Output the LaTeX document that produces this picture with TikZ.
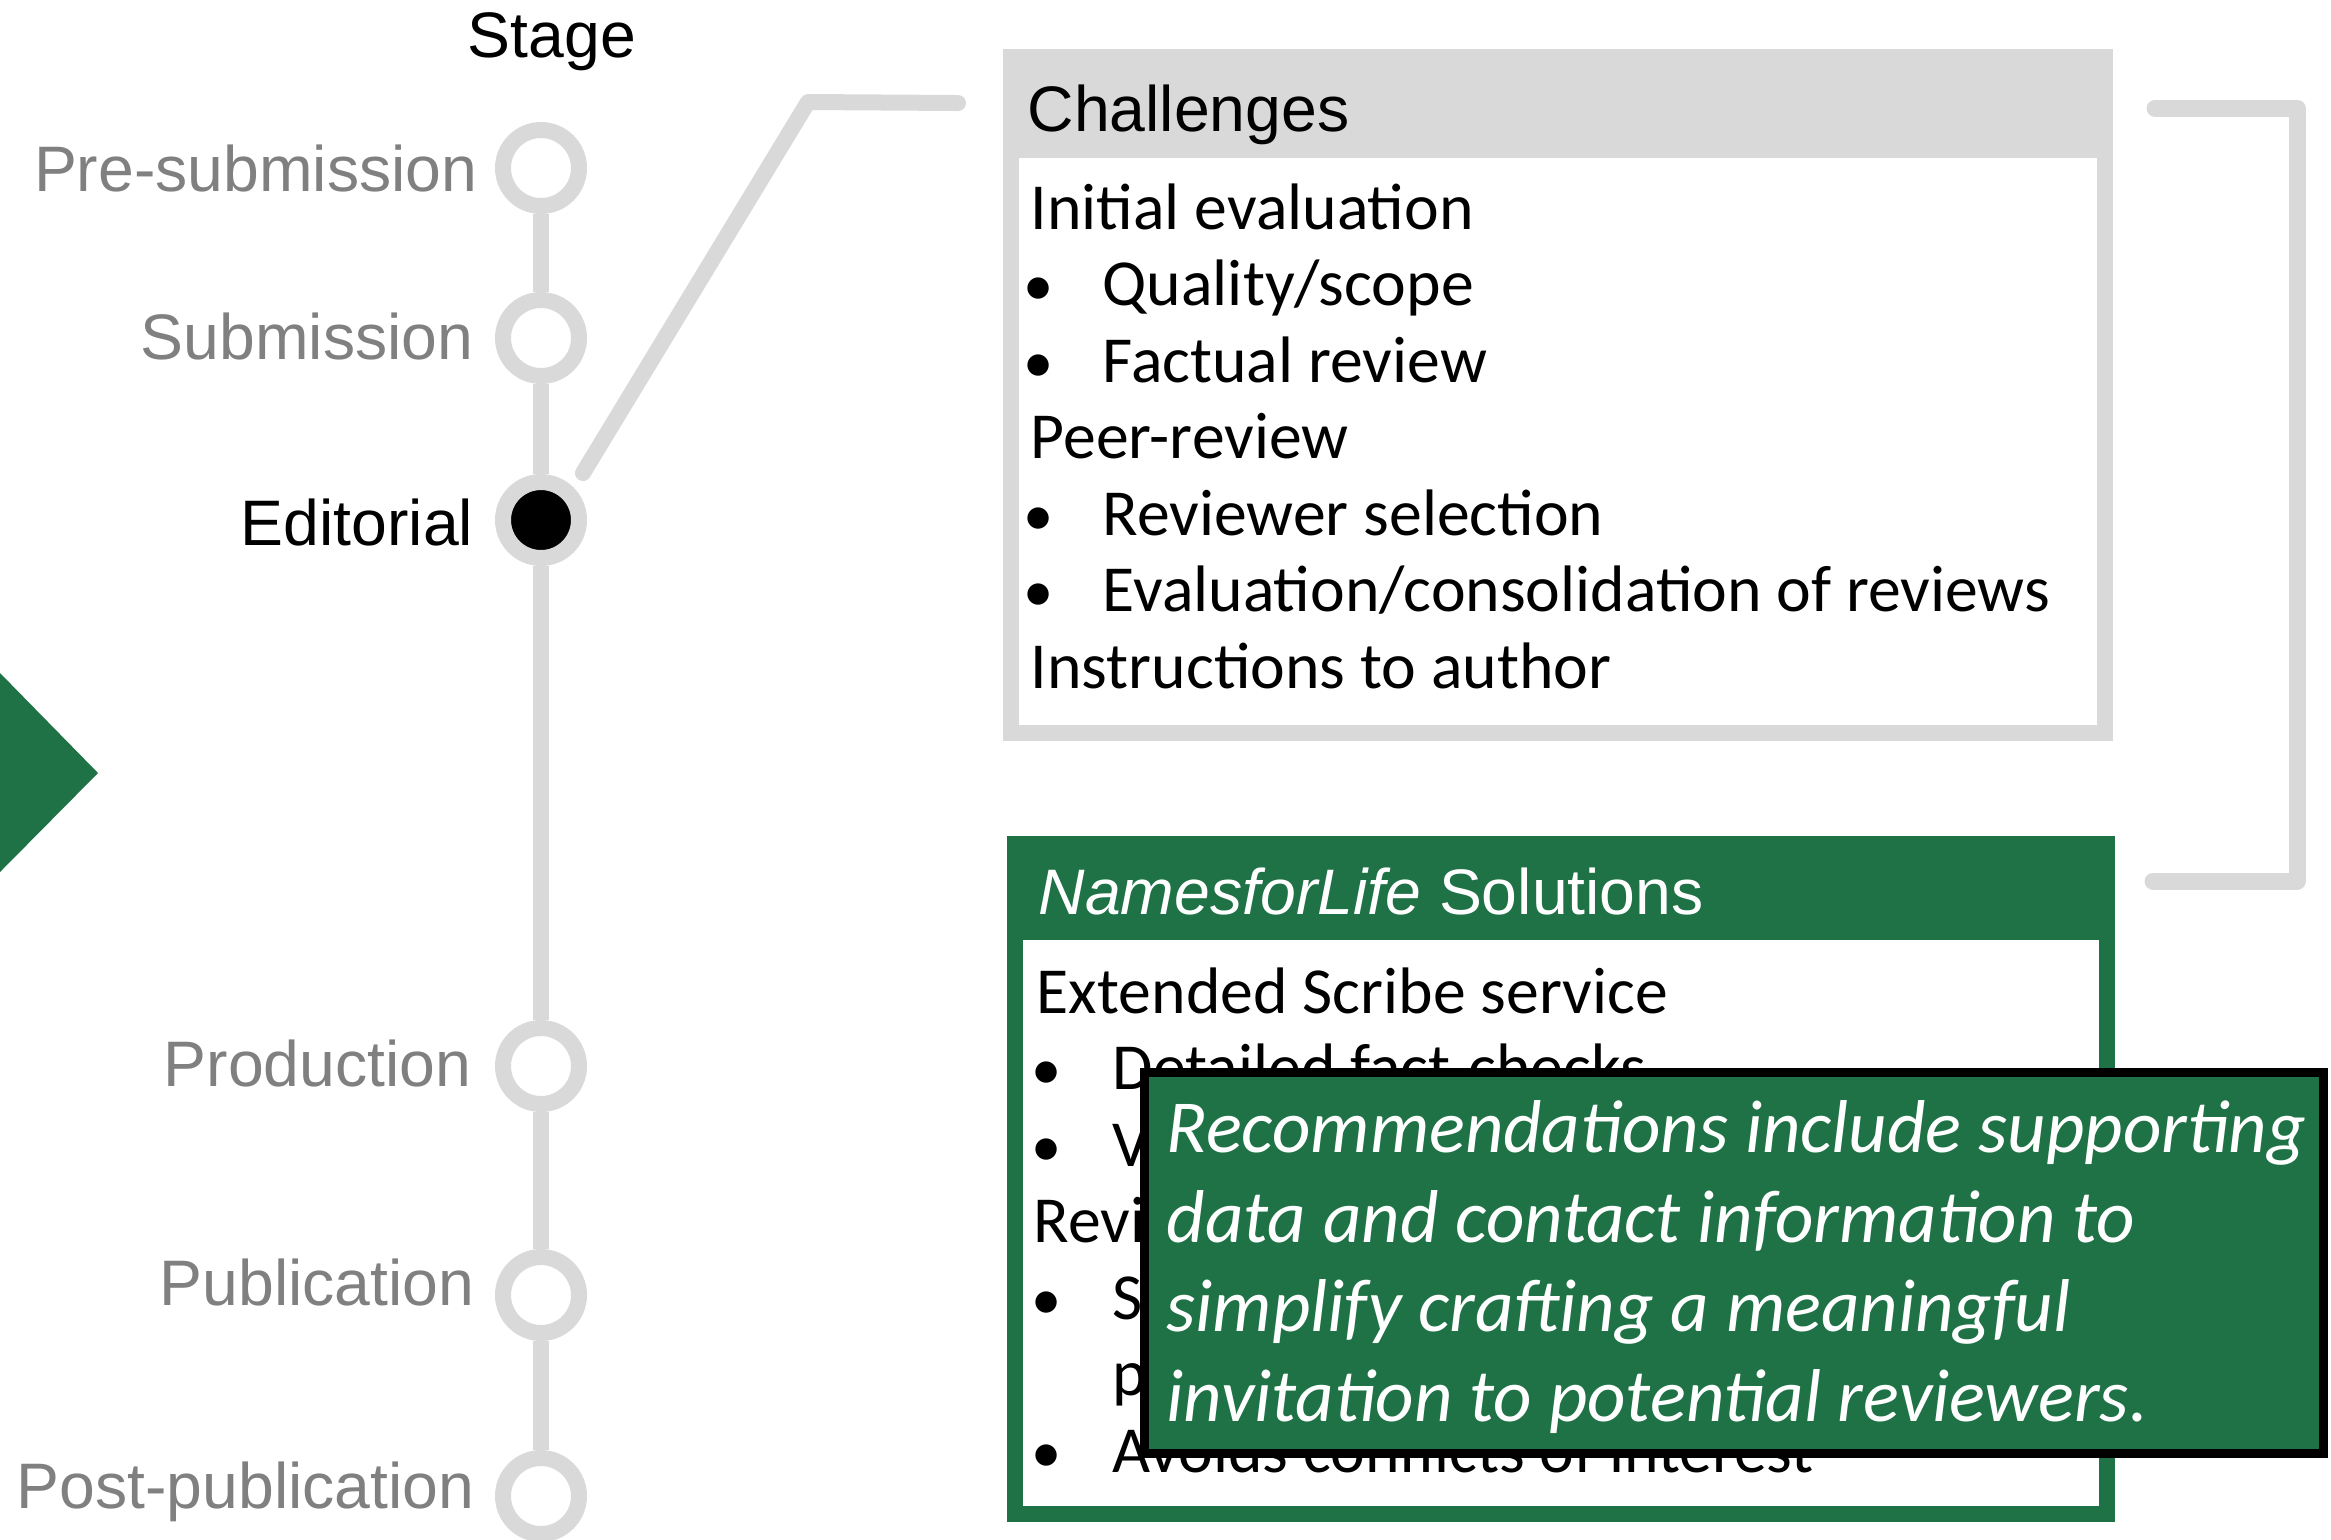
\documentclass[tikz,border=0pt]{standalone}
\usepackage{fontspec}
\setmainfont{Carlito}
\newfontfamily\arialfont{Liberation Sans}
\definecolor{linegray}{RGB}{217,217,217}
\definecolor{labelgray}{RGB}{128,128,128}
\definecolor{nflgreen}{RGB}{30,114,69}
\tikzset{
  stagelbl/.style={anchor=base east, inner sep=0, text=labelgray, font=\arialfont\fontsize{18.3}{21}\selectfont},
  stagedot/.style={circle, draw=linegray, line width=1.6mm, fill=white, minimum size=7.6mm, inner sep=0},
  spine/.style={draw=linegray, line width=1.6mm},
  callout/.style={draw=linegray, line width=1.6mm, line cap=round, line join=round},
  boxhead/.style={anchor=base west, inner sep=0, font=\arialfont\fontsize{18.3}{21}\selectfont},
  boxline/.style={anchor=base west, inner sep=0, font=\fontsize{18.7}{22}\selectfont},
  boxbullet/.style={anchor=base, inner sep=0, font=\fontsize{17.2}{20}\selectfont},
  notetext/.style={anchor=base west, inner sep=0, text=white, font=\itshape\fontsize{21.3}{25}\selectfont}
}
\begin{document}
\begin{tikzpicture}[x=0.1mm, y=-0.1mm]
  \useasboundingbox (0,0) rectangle (2331,1539);
  % green marker on the left
  \fill[nflgreen] (0,673) -- (98,773) -- (0,872) -- cycle;

  % stage line
  \node[stagelbl, text=black] (stage) at (552,57) [anchor=base] {Stage};
  \node[stagedot] (presub) at (541,168) {};
  \node[stagedot] (sub) at (541,338) {};
  \node[stagedot, fill=black] (edit) at (541,520) {};
  \node[stagedot] (prod) at (541,1066) {};
  \node[stagedot] (pub) at (541,1295) {};
  \node[stagedot] (postpub) at (541,1496) {};
  \draw[spine] (presub) -- (sub);
  \draw[spine] (sub) -- (edit);
  \draw[spine] (edit) -- (prod);
  \draw[spine] (prod) -- (pub);
  \draw[spine] (pub) -- (postpub);
  \node[stagelbl] (presubLabel) at (478,191) {Pre-submission};
  \node[stagelbl] (subLabel) at (474,359) {Submission};
  \node[stagelbl, text=black] (editLabel) at (474,545) {Editorial};
  \node[stagelbl] (prodLabel) at (472,1086) {Production};
  \node[stagelbl] (pubLabel) at (475,1305) {Publication};
  \node[stagelbl] (postpubLabel) at (475,1508) {Post-publication};

  % callout from Editorial to the boxes
  \coordinate (calloutStart) at (583,473);
  \coordinate (calloutBend) at (808,102);
  \coordinate (calloutEnd) at (958,103);
  \draw[callout] (calloutStart) -- (calloutBend) -- (calloutEnd);
  \coordinate (bracketTop) at (2155,108);
  \coordinate (bracketTopRight) at (2297,108);
  \coordinate (bracketBottomRight) at (2297,881);
  \coordinate (bracketBottom) at (2153,881);
  \draw[callout, line width=1.7mm] (bracketTop) -- (bracketTopRight) -- (bracketBottomRight) -- (bracketBottom);

  % Challenges box
  \fill[linegray] (1003,49) rectangle (2113,741);
  \fill[white] (1019,158) rectangle (2097,725);
  \node[boxhead] (challenges) at (1027,131) {Challenges};
  \node[boxline] (initEval) at (1030,229) {Initial evaluation};
  \node[boxbullet] (b1) at (1039,305.5) {\textbullet};
  \node[boxline] (quality) at (1102,305.5) {Quality/scope};
  \node[boxbullet] (b2) at (1039,382) {\textbullet};
  \node[boxline] (factual) at (1102,382) {Factual review};
  \node[boxline] (peer) at (1030,458.5) {Peer-review};
  \node[boxbullet] (b3) at (1039,535) {\textbullet};
  \node[boxline] (revSel) at (1102,535) {Reviewer selection};
  \node[boxbullet] (b4) at (1039,611.5) {\textbullet};
  \node[boxline] (consol) at (1102,611.5) {Evaluation/consolidation of reviews};
  \node[boxline] (instr) at (1030,688) {Instructions to author};

  % Solutions box
  \fill[nflgreen] (1007,836) rectangle (2115,1522);
  \fill[white] (1023,940) rectangle (2099,1506);
  \node[boxhead, text=white] (solutions) at (1038,914) {\textit{NamesforLife} Solutions};
  \node[boxline] (scribe) at (1036,1013) {Extended Scribe service};
  \node[boxbullet] (s1) at (1047,1089.5) {\textbullet};
  \node[boxline] (facts) at (1112,1089.5) {Detailed fact-checks};
  \node[boxbullet] (s2) at (1047,1166) {\textbullet};
  \node[boxline] (sV) at (1112,1166) {V};
  \node[boxline] (sRev) at (1033,1242.5) {Revi};
  \node[boxbullet] (s3) at (1047,1319) {\textbullet};
  \node[boxline] (sS) at (1112,1319) {S};
  \node[boxline] (sP) at (1112,1395.5) {p};
  \node[boxbullet] (s4) at (1047,1472) {\textbullet};
  \node[boxline] (avoids) at (1112,1472) {Avoids conflicts of interest};

  % note on top
  \draw[line width=0.9mm, fill=nflgreen] (1144.5,1072.5) rectangle (2323,1453);
  \node[notetext] (note1) at (1166,1152) {Recommendations include supporting};
  \node[notetext] (note2) at (1166,1242) {data and contact information to};
  \node[notetext] (note3) at (1166,1331) {simplify crafting a meaningful};
  \node[notetext] (note4) at (1166,1421) {invitation to potential reviewers.};
\end{tikzpicture}
\end{document}
